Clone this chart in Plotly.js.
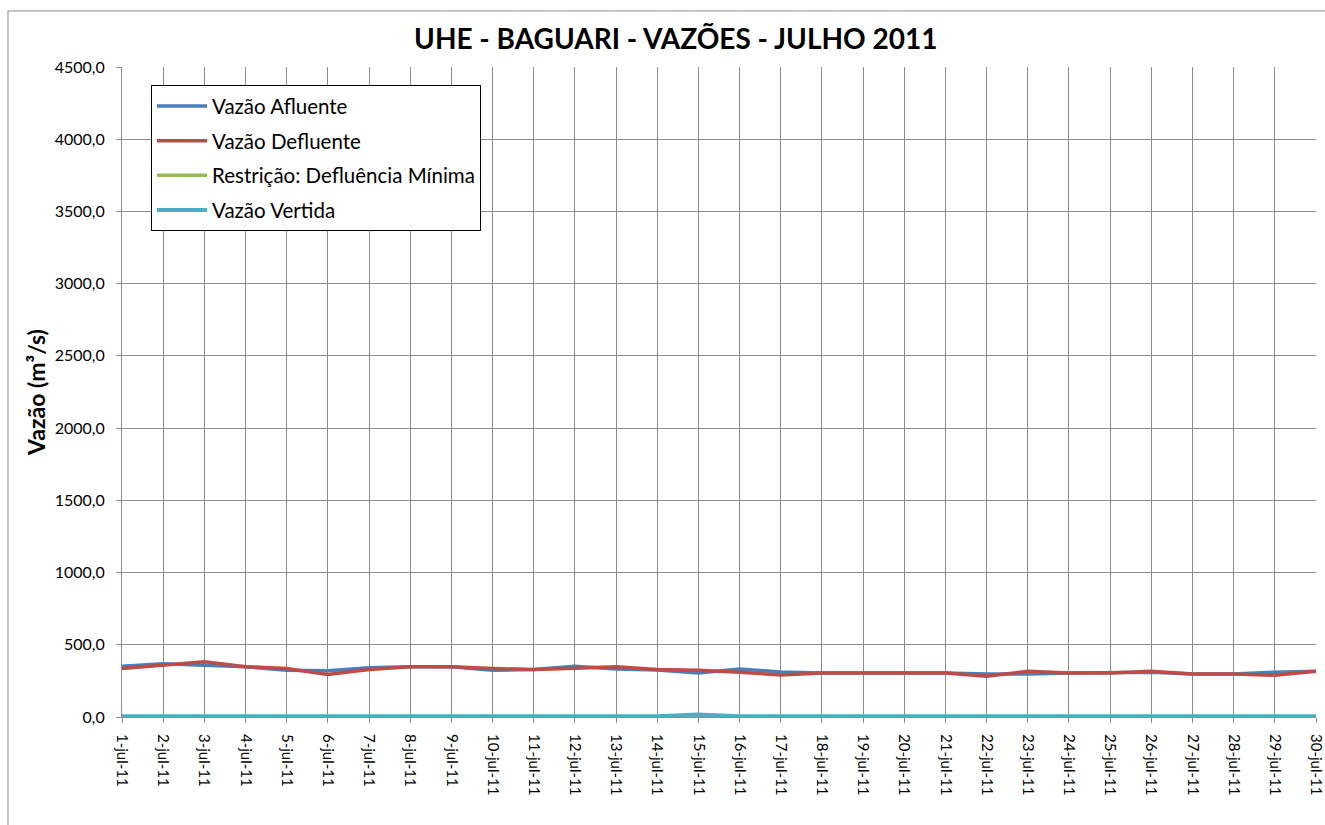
<!DOCTYPE html>
<html>
<head>
<meta charset="utf-8">
<script src="https://cdn.plot.ly/plotly-3.0.1.min.js"></script>
<style>html,body{margin:0;padding:0;background:#fff;}#chart{width:1325px;height:825px;}</style>
</head>
<body>
<div id="chart"></div>
<script>
const days = ["1-jul-11","2-jul-11","3-jul-11","4-jul-11","5-jul-11","6-jul-11","7-jul-11","8-jul-11","9-jul-11","10-jul-11",
"11-jul-11","12-jul-11","13-jul-11","14-jul-11","15-jul-11","16-jul-11","17-jul-11","18-jul-11","19-jul-11","20-jul-11",
"21-jul-11","22-jul-11","23-jul-11","24-jul-11","25-jul-11","26-jul-11","27-jul-11","28-jul-11","29-jul-11","30-jul-11"];
const vazaoAfluente = [352,369,359,348,324,320,341,348,348,324,329,352,333,326,305,333,312,305,305,305,305,298,298,305,305,310,298,298,310,317];
const vazaoDefluente = [336,360,383,348,336,295,329,348,348,336,329,338,348,329,324,310,291,305,305,305,305,282,317,305,305,317,298,298,289,317];
const restricaoMinima = [0,0,0,0,0,0,0,0,0,0,0,0,0,0,0,0,0,0,0,0,0,0,0,0,0,0,0,0,0,0];
const vazaoVertida = [5,5,5,5,5,5,5,5,5,5,5,5,5,5,18,5,5,5,5,5,5,5,5,5,5,5,5,5,5,5];
const yTicks = [0,500,1000,1500,2000,2500,3000,3500,4000,4500];
const yTickText = ["0,0","500,0","1000,0","1500,0","2000,0","2500,0","3000,0","3500,0","4000,0","4500,0"];

const font = "Lato, 'Open Sans', sans-serif";
const traces = [
  {x: days, y: vazaoAfluente, name: "Vazão Afluente", legendgroup: "a", type: "scatter", mode: "lines", line: {color: "#4A7EBB", width: 3.5}},
  {x: days, y: vazaoDefluente, name: "Vazão Defluente", legendgroup: "b", type: "scatter", mode: "lines", line: {color: "#BE4B48", width: 3.5}},
  {x: days, y: restricaoMinima, name: "Restrição: Defluência Mínima", legendgroup: "c", type: "scatter", mode: "lines", line: {color: "#98B954", width: 3.5}},
  {x: days, y: vazaoVertida, name: "Vazão Vertida", legendgroup: "d", type: "scatter", mode: "lines", line: {color: "#4BACC6", width: 4}}
];
const layout = {
  width: 1325, height: 825,
  margin: {l: 122, r: 9, t: 67, b: 108},
  paper_bgcolor: "#fff", plot_bgcolor: "#fff",
  font: {family: font, size: 16, color: "#000"},
  title: {text: "<b>UHE - BAGUARI - VAZÕES - JULHO 2011</b>", font: {family: font, size: 28, color: "#000"}, x: 0.51, xanchor: "center", y: 0.952, yanchor: "middle"},
  xaxis: {
    type: "category", range: [0, 29], tickangle: 90,
    showgrid: true, gridcolor: "#8c8c8c", gridwidth: 1,
    showline: true, linecolor: "#8c8c8c", linewidth: 1,
    ticks: "outside", ticklen: 5, tickcolor: "#8c8c8c",
    ticklabelstandoff: 8,
    tickfont: {family: font, size: 15, color: "#000"}, fixedrange: true
  },
  yaxis: {
    range: [0, 4500], tickvals: yTicks, ticktext: yTickText,
    showgrid: true, gridcolor: "#8c8c8c", gridwidth: 1,
    showline: true, linecolor: "#8c8c8c", linewidth: 1,
    ticks: "outside", ticklen: 5, tickcolor: "#8c8c8c",
    ticklabelstandoff: 8,
    tickfont: {family: font, size: 16, color: "#000"},
    zeroline: false,
    title: {text: "<b>Vazão (m³/s)</b>", font: {family: font, size: 23, color: "#000"}, standoff: 2}
  },
  legend: {
    x: 0.0243, y: 0.972, xanchor: "left", yanchor: "top",
    bgcolor: "#fff", bordercolor: "#000", borderwidth: 1,
    font: {family: font, size: 20.5, color: "#000"},
    tracegroupgap: 5, itemwidth: 50
  },
  shapes: [
    {type: "rect", xref: "paper", yref: "paper", x0: -0.0955, x1: 1.1, y0: -0.4, y1: 1.0862, line: {color: "#8c8c8c", width: 1}, fillcolor: "rgba(0,0,0,0)", layer: "below"}
  ],
  showlegend: true
};
Plotly.newPlot("chart", traces, layout, {displayModeBar: false, staticPlot: true});
</script>
</body>
</html>
